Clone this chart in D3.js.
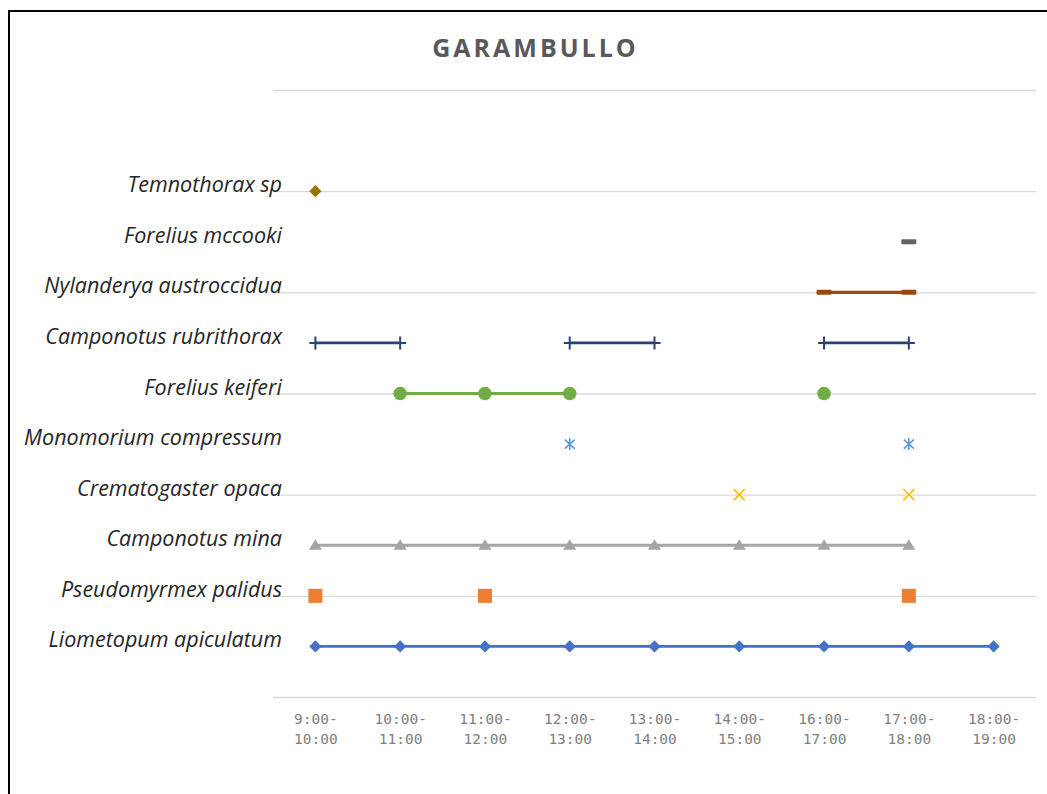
<!DOCTYPE html>
<html>
<head>
<meta charset="utf-8">
<script src="https://cdn.jsdelivr.net/npm/d3@7"></script>
<style>
  body { margin: 0; background: #fff; }
  svg { display: block; }
</style>
</head>
<body>
<script>
const categories = ["9:00-10:00", "10:00-11:00", "11:00-12:00", "12:00-13:00", "13:00-14:00",
  "14:00-15:00", "16:00-17:00", "17:00-18:00", "18:00-19:00"];

const species = ["Liometopum apiculatum", "Pseudomyrmex palidus", "Camponotus mina",
  "Crematogaster opaca", "Monomorium compressum", "Forelius keiferi",
  "Camponotus rubrithorax", "Nylanderya austroccidua", "Forelius mccooki", "Temnothorax sp"];

// one value per time slot, null = not seen
const liometopum = [1, 1, 1, 1, 1, 1, 1, 1, 1];
const pseudomyrmex = [2, null, 2, null, null, null, null, 2, null];
const campMina = [3, 3, 3, 3, 3, 3, 3, 3, null];
const crematogaster = [null, null, null, null, null, 4, null, 4, null];
const monomorium = [null, null, null, 5, null, null, null, 5, null];
const foreliusKeiferi = [null, 6, 6, 6, null, null, 6, null, null];
const campRubri = [7, 7, null, 7, 7, null, 7, 7, null];
const nylanderya = [null, null, null, null, null, null, 8, 8, null];
const foreliusMccooki = [null, null, null, null, null, null, null, 9, null];
const temnothorax = [10, null, null, null, null, null, null, null, null];

const yTicks = [0, 2, 4, 6, 8, 10, 12];

const series = [
  { values: liometopum, color: "#4472C4", marker: "diamond", line: 2.8 },
  { values: pseudomyrmex, color: "#ED7D31", marker: "square", line: 2.8 },
  { values: campMina, color: "#A5A5A5", marker: "triangle", line: 2.8 },
  { values: crematogaster, color: "#FFC000", marker: "x", line: 2.8 },
  { values: monomorium, color: "#5B9BD5", marker: "star", line: 2.8 },
  { values: foreliusKeiferi, color: "#70AD47", marker: "circle", line: 2.8 },
  { values: campRubri, color: "#264478", marker: "plus", line: 2.8 },
  { values: nylanderya, color: "#9E480E", marker: "dash", line: 3.4 },
  { values: foreliusMccooki, color: "#636363", marker: "dash", line: 2.8 },
  { values: temnothorax, color: "#997300", marker: "diamond", line: 2.8 }
];

const W = 1047, H = 794;
const plotL = 273, plotR = 1036, plotT = 90, plotB = 697;

const svg = d3.select("body").append("svg")
  .attr("width", W)
  .attr("height", H);

svg.append("rect").attr("width", W).attr("height", H).attr("fill", "#fff");

// frame (only left and top edges visible)
svg.append("path")
  .attr("d", `M9,${H} V11 H${W}`)
  .attr("fill", "none")
  .attr("stroke", "#000")
  .attr("stroke-width", 2);

const x = d3.scalePoint()
  .domain(categories)
  .range([plotL, plotR])
  .padding(0.5);

const y = d3.scaleLinear()
  .domain([0, 12])
  .range([plotB, plotT]);

// gridlines
const grid = svg.append("g")
  .attr("transform", `translate(${plotL},0)`)
  .call(d3.axisLeft(y).tickValues(yTicks).tickSize(-(plotR - plotL)).tickFormat(""));
grid.select(".domain").remove();
grid.selectAll("line").attr("stroke", "#d9d9d9").attr("stroke-width", 1.3);

// category axis
const xAxis = svg.append("g")
  .attr("transform", `translate(0,${plotB})`)
  .call(d3.axisBottom(x).tickSize(0).tickFormat(""));
xAxis.select(".domain").remove();
xAxis.selectAll(".tick text").remove();
xAxis.selectAll(".tick").each(function (d) {
  const parts = d.split("-");
  const t = d3.select(this).append("text")
    .attr("fill", "#808080")
    .attr("font-family", "DejaVu Sans Mono")
    .attr("font-size", 14.5)
    .attr("text-anchor", "middle");
  t.append("tspan").attr("x", 0).attr("y", 27).text(parts[0] + "-");
  t.append("tspan").attr("x", 0).attr("y", 47).text(parts[1]);
});

// title
svg.append("text")
  .attr("x", 535.5)
  .attr("y", 57)
  .attr("text-anchor", "middle")
  .attr("font-family", "Open Sans")
  .attr("font-weight", 700)
  .attr("font-size", 25)
  .attr("letter-spacing", 3)
  .attr("fill", "#595959")
  .text("GARAMBULLO");

// species labels
svg.append("g").selectAll("text")
  .data(species)
  .join("text")
  .attr("x", 282)
  .attr("y", (d, i) => y(i + 1) + 1)
  .attr("text-anchor", "end")
  .attr("font-family", "Open Sans")
  .attr("font-style", "italic")
  .attr("font-size", 21.5)
  .attr("fill", "#262626")
  .text(d => d);

const line = d3.line()
  .defined(d => d.v != null)
  .x(d => x(d.c))
  .y(d => y(d.v));

function drawMarker(g, type, color) {
  if (type === "diamond") {
    g.append("rect").attr("x", -4.3).attr("y", -4.3).attr("width", 8.6).attr("height", 8.6)
      .attr("transform", "rotate(45)").attr("fill", color);
  } else if (type === "square") {
    g.append("rect").attr("x", -7).attr("y", -7).attr("width", 14).attr("height", 14)
      .attr("fill", color);
  } else if (type === "triangle") {
    g.append("path").attr("d", "M0,-6 L6.5,4.5 L-6.5,4.5 Z").attr("fill", color);
  } else if (type === "circle") {
    g.append("circle").attr("r", 6.8).attr("fill", color);
  } else if (type === "x") {
    g.append("path").attr("d", "M-5.5,-5.5 L5.5,5.5 M-5.5,5.5 L5.5,-5.5")
      .attr("stroke", color).attr("stroke-width", 1.6).attr("fill", "none");
  } else if (type === "star") {
    g.append("path").attr("d", "M-5,-4.5 L5,4.5 M-5,4.5 L5,-4.5 M0,-6 L0,6")
      .attr("stroke", color).attr("stroke-width", 1.6).attr("fill", "none");
  } else if (type === "plus") {
    g.append("path").attr("d", "M-6,0 L6,0 M0,-6.5 L0,6.5")
      .attr("stroke", color).attr("stroke-width", 2).attr("fill", "none");
  } else if (type === "dash") {
    g.append("rect").attr("x", -7.5).attr("y", -2.5).attr("width", 15).attr("height", 5)
      .attr("rx", 1).attr("fill", color);
  }
}

series.forEach(s => {
  const pts = s.values.map((v, i) => ({ c: categories[i], v: v }));
  svg.append("path")
    .datum(pts)
    .attr("d", line)
    .attr("fill", "none")
    .attr("stroke", s.color)
    .attr("stroke-width", s.line);
  svg.append("g").selectAll("g")
    .data(pts.filter(d => d.v != null))
    .join("g")
    .attr("transform", d => `translate(${x(d.c)},${y(d.v)})`)
    .each(function () { drawMarker(d3.select(this), s.marker, s.color); });
});
</script>
</body>
</html>
